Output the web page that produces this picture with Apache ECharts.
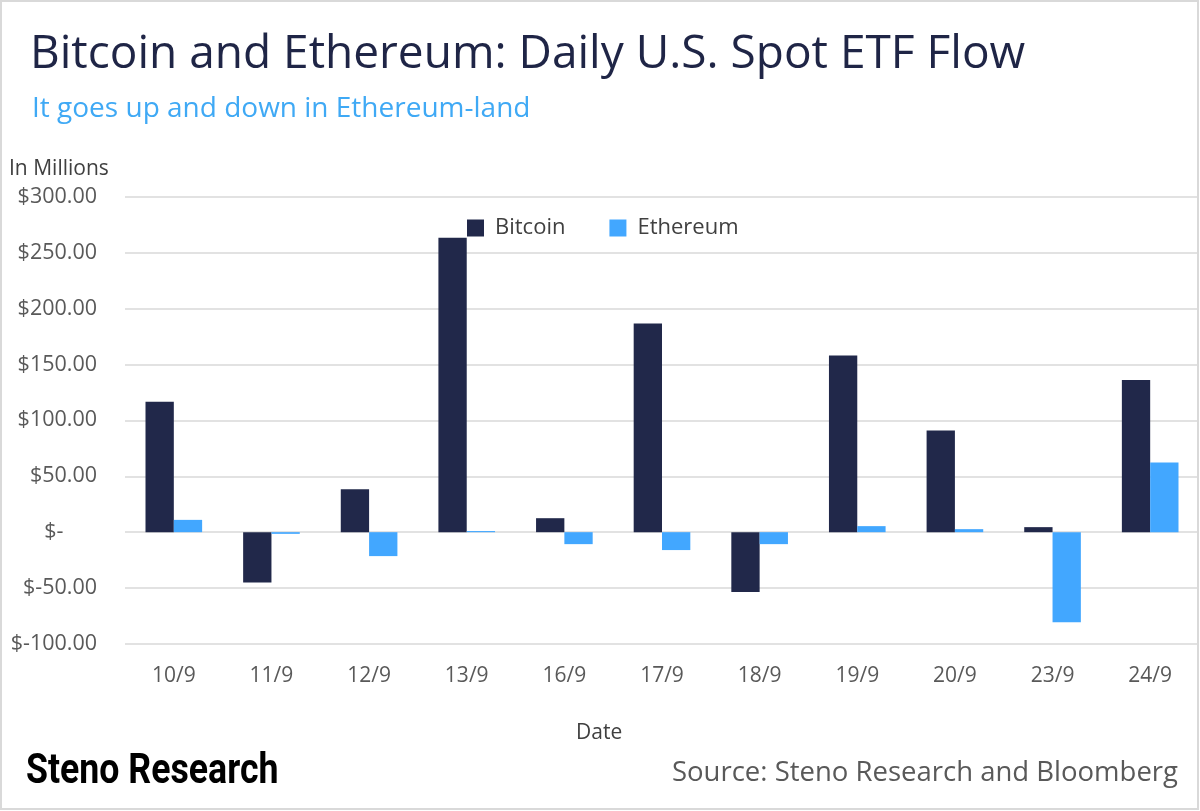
<!DOCTYPE html>
<html>
<head>
<meta charset="utf-8">
<script src="https://cdn.jsdelivr.net/npm/echarts@6/dist/echarts.min.js"></script>
<style>
html,body{margin:0;padding:0;background:#fff;}
#chart{width:1200px;height:811px;}
</style>
</head>
<body>
<div id="chart"></div>
<script>
const categories = ['10/9','11/9','12/9','13/9','16/9','17/9','18/9','19/9','20/9','23/9','24/9'];
const bitcoin = [116.7, -44.9, 38.4, 263.4, 12.5, 186.6, -53.6, 158.0, 91.0, 4.5, 136.0];
const ethereum = [11.0, -1.5, -21.4, 1.0, -10.7, -16.0, -10.7, 5.4, 2.7, -80.6, 62.2];
const yTicks = [-100, -50, 0, 50, 100, 150, 200, 250, 300];

const FONT = 'Open Sans';
const chart = echarts.init(document.getElementById('chart'));
chart.setOption({
  backgroundColor: '#fff',
  animation: false,
  graphic: [
    { type: 'rect', shape: { x: 1, y: 1, width: 1197, height: 808 }, style: { fill: 'none', stroke: '#d9d9d9', lineWidth: 2 }, z: 10 },
    { type: 'text', left: 30, top: 32, style: { text: 'Bitcoin and Ethereum: Daily U.S. Spot ETF Flow', fill: '#1f2546', font: '46px "' + FONT + '"' } },
    { type: 'text', left: 32, top: 95, style: { text: 'It goes up and down in Ethereum-land', fill: '#3fa9f5', font: '28px "' + FONT + '"' } },
    { type: 'text', left: 9, top: 159, style: { text: 'In Millions', fill: '#404040', font: '21px "' + FONT + '"' } },
    { type: 'text', left: 576, top: 723, style: { text: 'Date', fill: '#404040', font: '21px "' + FONT + '"' } },
    { type: 'text', right: 22, top: 759, style: { text: 'Source: Steno Research and Bloomberg', fill: '#595959', font: '27.5px "' + FONT + '"' } },
    { type: 'text', x: 26, y: 751, scaleX: 0.83, style: { text: 'Steno Research', fill: '#000', font: 'bold 43px "Roboto"', textVerticalAlign: 'top' } }
  ],
  legend: {
    top: 212, left: 462,
    itemWidth: 17, itemHeight: 17, itemGap: 44,
    icon: 'rect',
    textStyle: { fontFamily: FONT, fontSize: 22, color: '#404040', padding: [0, 0, 0, 6] },
    data: ['Bitcoin', 'Ethereum']
  },
  grid: { left: 125, right: 1, top: 196.7, bottom: 167, containLabel: false },
  xAxis: {
    type: 'category', data: categories,
    axisLine: { show: false }, axisTick: { show: false },
    axisLabel: { color: '#595959', fontFamily: FONT, fontSize: 21, margin: 22 }
  },
  yAxis: {
    type: 'value', min: -100, max: 300, interval: 50,
    axisLine: { show: false }, axisTick: { show: false },
    splitLine: { lineStyle: { color: '#d9d9d9', width: 1.5 } },
    axisLabel: {
      color: '#595959', fontFamily: FONT, fontSize: 21.5, margin: 28,
      formatter: v => v === 0 ? '$-      ' : '$' + v.toFixed(2)
    }
  },
  series: [
    { name: 'Bitcoin', type: 'bar', data: bitcoin, barWidth: '29%', barGap: '0%', itemStyle: { color: '#21284a' } },
    { name: 'Ethereum', type: 'bar', data: ethereum, barWidth: '29%', itemStyle: { color: '#42a7ff' } }
  ]
});
</script>
</body>
</html>
